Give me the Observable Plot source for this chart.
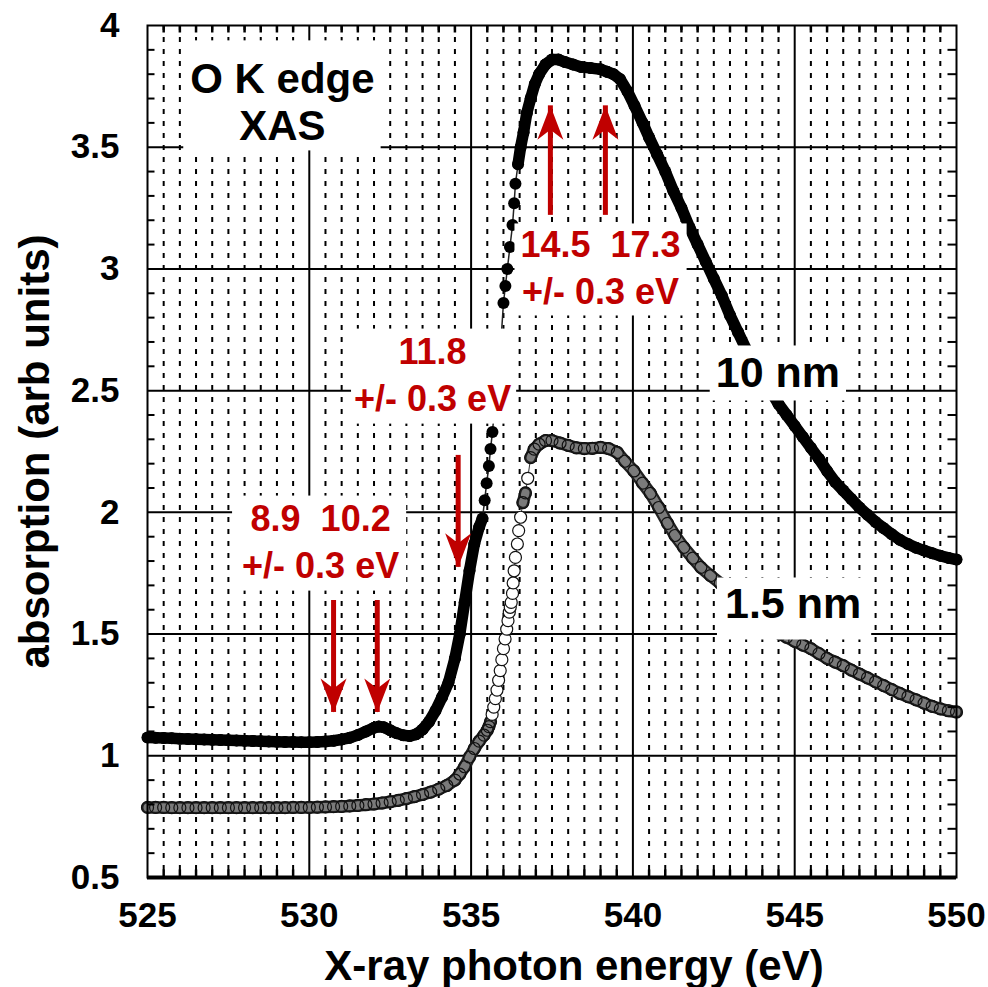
<!DOCTYPE html>
<html><head><meta charset="utf-8">
<script src="https://cdn.jsdelivr.net/npm/d3@7"></script>
<script src="https://cdn.jsdelivr.net/npm/@observablehq/plot@0.6"></script>
<style>
html,body{margin:0;padding:0;background:#fff;}
#chart{width:988px;height:987px;}
</style></head><body><div id="chart"></div>
<script>
// 10 nm film: [photon energy (eV), absorption]
const film10nm = [[525,1.075],[525.25,1.074],[525.5,1.073],[525.75,1.072],[526,1.070],[526.25,1.069],[526.5,1.068],[526.75,1.067],[527,1.066],[527.25,1.065],[527.5,1.064],[527.75,1.063],[528,1.062],[528.25,1.061],[528.5,1.060],[528.75,1.059],[529,1.058],[529.25,1.057],[529.5,1.057],[529.75,1.056],[530,1.056],[530.25,1.057],[530.5,1.059],[530.75,1.062],[531,1.067],[531.25,1.074],[531.5,1.085],[531.75,1.100],[532,1.115],[532.15,1.120],[532.3,1.117],[532.5,1.105],[532.7,1.093],[532.9,1.084],[533.1,1.081],[533.3,1.088],[533.5,1.108],[533.7,1.140],[533.9,1.185],[534.1,1.240],[534.3,1.300],[534.5,1.400],[534.65,1.500],[534.8,1.630],[534.95,1.760],[535.1,1.870],[535.25,1.940],[535.35,1.975],[535.42,2.05],[535.48,2.12],[535.55,2.19],[535.6,2.26],[535.66,2.33],[535.72,2.42],[535.78,2.51],[535.85,2.60],[535.92,2.70],[536,2.86],[536.06,2.93],[536.12,3.00],[536.2,3.09],[536.28,3.18],[536.33,3.27],[536.37,3.35],[536.45,3.43],[536.53,3.50],[536.62,3.56],[536.72,3.64],[536.84,3.70],[536.97,3.76],[537.1,3.80],[537.3,3.84],[537.5,3.86],[537.7,3.86],[537.9,3.85],[538.15,3.84],[538.4,3.83],[538.7,3.825],[539,3.82],[539.2,3.81],[539.4,3.80],[539.6,3.78],[539.83,3.73],[540.05,3.67],[540.3,3.60],[540.5,3.54],[540.75,3.47],[541,3.40],[541.25,3.32],[541.5,3.25],[541.75,3.17],[542,3.10],[542.25,3.03],[542.5,2.96],[542.75,2.89],[543,2.81],[543.25,2.74],[543.5,2.67],[543.75,2.61],[544,2.55],[544.25,2.50],[544.5,2.445],[544.75,2.40],[545,2.355],[545.25,2.31],[545.5,2.265],[545.75,2.22],[546,2.17],[546.25,2.125],[546.5,2.09],[546.75,2.055],[547,2.02],[547.25,1.99],[547.5,1.96],[547.75,1.935],[548,1.91],[548.25,1.887],[548.5,1.87],[548.75,1.855],[549,1.843],[549.25,1.832],[549.5,1.822],[549.75,1.813],[550,1.806]];

// 1.5 nm film: [photon energy (eV), absorption]
const film15nm = [[525,0.788],[525.25,0.788],[525.5,0.788],[525.75,0.787],[526,0.787],[526.25,0.787],[526.5,0.787],[526.75,0.787],[527,0.787],[527.25,0.787],[527.5,0.787],[527.75,0.787],[528,0.787],[528.25,0.787],[528.5,0.787],[528.75,0.787],[529,0.787],[529.25,0.787],[529.5,0.788],[529.75,0.788],[530,0.788],[530.25,0.789],[530.5,0.790],[530.75,0.791],[531,0.792],[531.25,0.794],[531.5,0.796],[531.75,0.799],[532,0.802],[532.25,0.806],[532.5,0.811],[532.75,0.817],[533,0.824],[533.25,0.832],[533.5,0.841],[533.75,0.851],[534,0.863],[534.25,0.878],[534.5,0.900],[534.65,0.925],[534.8,0.955],[534.95,0.995],[535.1,1.030],[535.25,1.060],[535.4,1.085],[535.5,1.105],[535.55,1.12],[535.6,1.14],[535.65,1.17],[535.7,1.20],[535.75,1.235],[535.8,1.27],[535.85,1.31],[535.9,1.35],[535.95,1.395],[536,1.44],[536.05,1.48],[536.1,1.52],[536.14,1.555],[536.18,1.59],[536.21,1.61],[536.24,1.63],[536.28,1.667],[536.3,1.71],[536.33,1.76],[536.37,1.815],[536.43,1.87],[536.47,1.925],[536.53,1.98],[536.6,2.04],[536.68,2.08],[536.75,2.14],[536.84,2.225],[536.95,2.26],[537.1,2.28],[537.3,2.295],[537.5,2.295],[537.75,2.285],[538,2.275],[538.25,2.265],[538.5,2.262],[538.75,2.263],[539,2.267],[539.25,2.262],[539.52,2.246],[539.75,2.21],[540.03,2.17],[540.3,2.12],[540.54,2.078],[540.8,2.02],[541.07,1.955],[541.3,1.905],[541.57,1.856],[541.85,1.812],[542.1,1.774],[542.4,1.74],[542.7,1.708],[543,1.676],[543.25,1.648],[543.5,1.62],[543.75,1.592],[544,1.565],[544.25,1.532],[544.56,1.50],[544.75,1.487],[545,1.47],[545.25,1.455],[545.5,1.44],[545.75,1.42],[546,1.40],[546.25,1.385],[546.5,1.37],[546.75,1.352],[547,1.336],[547.25,1.32],[547.5,1.304],[547.75,1.288],[548,1.272],[548.25,1.256],[548.5,1.243],[548.75,1.23],[549,1.216],[549.25,1.203],[549.5,1.193],[549.75,1.185],[550,1.18]];

// axis ticks
const xTickValues = [525, 530, 535, 540, 545, 550];
const yTickValues = [0.5, 1, 1.5, 2, 2.5, 3, 3.5, 4];
const xMinorTicks = d3.range(1, 50).filter(i => i % 10).map(i => 525 + i / 2);
const yMinorTicks = d3.range(6, 40).filter(i => i % 5).map(i => i / 10);

// arrows: energy position, tail and tip absorption
const arrowEnergy = [530.75, 532.1, 534.6, 537.45, 539.15];
const arrowTail   = [1.638, 1.638, 2.234, 3.22, 3.22];
const arrowTip    = [1.178, 1.178, 1.774, 3.67, 3.67];

const RED = "#c00000";
const annotations = [
  {text: "O K edge\nXAS", x: 529.17, y: 3.528, color: "black", size: 42, lh: 1.12, pad: [15, 6, 1, 7]},
  {text: "11.8\n+/- 0.3 eV", x: 533.81, y: 2.418, color: RED, size: 36, lh: 1.306, pad: [2, 5, 5, 3]},
  {text: "8.9\u00a0\u00a010.2\n+/- 0.3 eV", x: 530.35, y: 1.732, color: RED, size: 36, lh: 1.306, pad: [2, 7, 5, 10]},
  {text: "14.5\u00a0\u00a017.3\n+/- 0.3 eV", x: 539.0, y: 2.854, color: RED, size: 36, lh: 1.306, pad: [1, 6, 3, 6]},
  {text: "10 nm", x: 544.48, y: 2.513, color: "black", size: 43, lh: 1.2, pad: [3, 6, 4, 6]},
  {text: "1.5 nm", x: 544.95, y: 1.564, color: "black", size: 43, lh: 1.2, pad: [2, 10, 12, 8]}
];

const W = 988, H = 987, ML = 147, MR = 32, MT = 25, MB = 110;
const XD = [525, 550], YD = [0.5, 4];

const rows10 = film10nm.map(([e, a]) => ({e, a}));
const rows15 = film15nm.map(([e, a]) => ({e, a}));
// consecutive-point segments: the original's closely spaced markers merge into a solid band
// except where the curve is steep enough for them to separate
function segments(rows, maxSlope) {
  return d3.pairs(rows).map(([p, q]) => ({x1: p.e, y1: p.a, x2: q.e, y2: q.a,
    dense: Math.abs((q.a - p.a) / (q.e - p.e)) < maxSlope}));
}
const seg10 = segments(rows10, 0.95);
const seg15 = segments(rows15, 0.55);
const denseIdx15 = new Set();
seg15.forEach((s, i) => { if (s.dense) { denseIdx15.add(i); denseIdx15.add(i + 1); } });
const open15 = rows15.filter((d, i) => !denseIdx15.has(i));
const packed15 = rows15.filter((d, i) => denseIdx15.has(i));

const arrows = arrowEnergy.map((x, i) => ({x, y1: arrowTail[i], y2: arrowTip[i], up: arrowTip[i] > arrowTail[i]}));

const headDown = {draw(c) { c.moveTo(0, 0); c.lineTo(13, -34); c.lineTo(0, -24); c.lineTo(-13, -34); c.closePath(); }};
const headUp = {draw(c) { c.moveTo(0, 0); c.lineTo(13, 34); c.lineTo(0, 24); c.lineTo(-13, 34); c.closePath(); }};
const tickL = {draw(c) { c.moveTo(0, 0); c.lineTo(7, 0); }};
const tickR = {draw(c) { c.moveTo(0, 0); c.lineTo(-9, 0); }};
const tickT = {draw(c) { c.moveTo(0, 0); c.lineTo(0, 7); }};
const tickB = {draw(c) { c.moveTo(0, 0); c.lineTo(0, -8); }};

const plot = Plot.plot({
  width: W, height: H,
  marginLeft: ML, marginRight: MR, marginTop: MT, marginBottom: MB,
  x: {domain: XD, axis: null},
  y: {domain: YD, axis: null},
  style: {fontFamily: "'Liberation Sans', Arial, Helvetica, sans-serif", fontWeight: "bold", fontSize: "35px", background: "white", color: "black"},
  marks: [
    Plot.ruleX(xMinorTicks, {stroke: "black", strokeWidth: 2, strokeDasharray: "5,7"}),
    Plot.ruleX(xTickValues.slice(1, -1), {stroke: "black", strokeWidth: 2}),
    Plot.ruleY(yTickValues.slice(1, -1), {stroke: "black", strokeWidth: 2}),
    // 1.5 nm: open circles (dense runs read as a grey tube)
    Plot.line(rows15, {x: "e", y: "a", stroke: "#333", strokeWidth: 1}),
    Plot.link(seg15.filter(s => s.dense), {x1: "x1", y1: "y1", x2: "x2", y2: "y2", stroke: "#222", strokeWidth: 12.5, strokeLinecap: "round"}),
    Plot.link(seg15.filter(s => s.dense), {x1: "x1", y1: "y1", x2: "x2", y2: "y2", stroke: "#7a7a7a", strokeWidth: 8, strokeLinecap: "round"}),
    Plot.dot(packed15, {x: "e", y: "a", r: 6, fill: "none", stroke: "#111", strokeWidth: 1.2}),
    Plot.dot(open15, {x: "e", y: "a", r: 6, fill: "white", stroke: "#111", strokeWidth: 1.2}),
    // 10 nm: filled dots
    Plot.line(rows10, {x: "e", y: "a", stroke: "#222", strokeWidth: 1.5}),
    Plot.link(seg10.filter(s => s.dense), {x1: "x1", y1: "y1", x2: "x2", y2: "y2", stroke: "black", strokeWidth: 11.5, strokeLinecap: "round"}),
    Plot.dot(rows10, {x: "e", y: "a", r: 6, fill: "black", stroke: "none"}),
    ...annotations.map(a => Plot.text([a], {x: "x", y: "y", text: "text", fill: a.color, fontSize: a.size, fontWeight: "bold", lineHeight: a.lh, lineAnchor: "bottom", textAnchor: "middle"})),
    Plot.ruleX(arrows, {x: "x", y1: "y1", y2: "y2", stroke: RED, strokeWidth: 5}),
    Plot.dot(arrows.filter(d => !d.up), {x: "x", y: "y2", symbol: headDown, fill: RED, stroke: "none"}),
    Plot.dot(arrows.filter(d => d.up), {x: "x", y: "y2", symbol: headUp, fill: RED, stroke: "none"}),
    Plot.dot(yMinorTicks, {x: () => 525, y: d => d, symbol: tickL, fill: "none", stroke: "black", strokeWidth: 2}),
    Plot.dot(yMinorTicks, {x: () => 550, y: d => d, symbol: tickR, fill: "none", stroke: "black", strokeWidth: 2}),
    Plot.dot(xMinorTicks, {x: d => d, y: () => 4, symbol: tickT, fill: "none", stroke: "black", strokeWidth: 2.5}),
    Plot.dot(xMinorTicks, {x: d => d, y: () => 0.5, symbol: tickB, fill: "none", stroke: "black", strokeWidth: 2.5}),
    Plot.frame({stroke: "black", strokeWidth: 2}),
    Plot.ruleY([0.5], {stroke: "black", strokeWidth: 4}),
    Plot.axisX(xTickValues, {anchor: "bottom", tickSize: 0, tickPadding: 25, tickFormat: d => String(d), label: null}),
    Plot.axisY(yTickValues, {anchor: "left", tickSize: 0, tickPadding: 28, tickFormat: d => String(d), label: null}),
    Plot.text(["X-ray photon energy (eV)"], {text: d => d, frameAnchor: "bottom", dx: 22, dy: 102, fontSize: 42, fontWeight: "bold", lineAnchor: "bottom", textAnchor: "middle"}),
    Plot.text(["absorption (arb units)"], {text: d => d, frameAnchor: "left", rotate: -90, dx: -99, fontSize: 42, fontWeight: "bold", lineAnchor: "bottom", textAnchor: "middle"})
  ]
});

document.getElementById("chart").append(plot);

// white boxes behind the annotation labels
const SVGNS = "http://www.w3.org/2000/svg";
plot.querySelectorAll("text").forEach(t => {
  const a = annotations.find(d => d.text.replace(/\n/g, "") === t.textContent);
  if (!a) return;
  const b = t.getBBox();
  const r = document.createElementNS(SVGNS, "rect");
  r.setAttribute("x", b.x - a.pad[3]);
  r.setAttribute("y", b.y - a.pad[0]);
  r.setAttribute("width", b.width + a.pad[1] + a.pad[3]);
  r.setAttribute("height", b.height + a.pad[0] + a.pad[2]);
  r.setAttribute("fill", "white");
  r.setAttribute("stroke", "none");
  const tr = t.getAttribute("transform");
  if (tr) r.setAttribute("transform", tr);
  t.parentNode.insertBefore(r, t);
});
</script></body></html>
